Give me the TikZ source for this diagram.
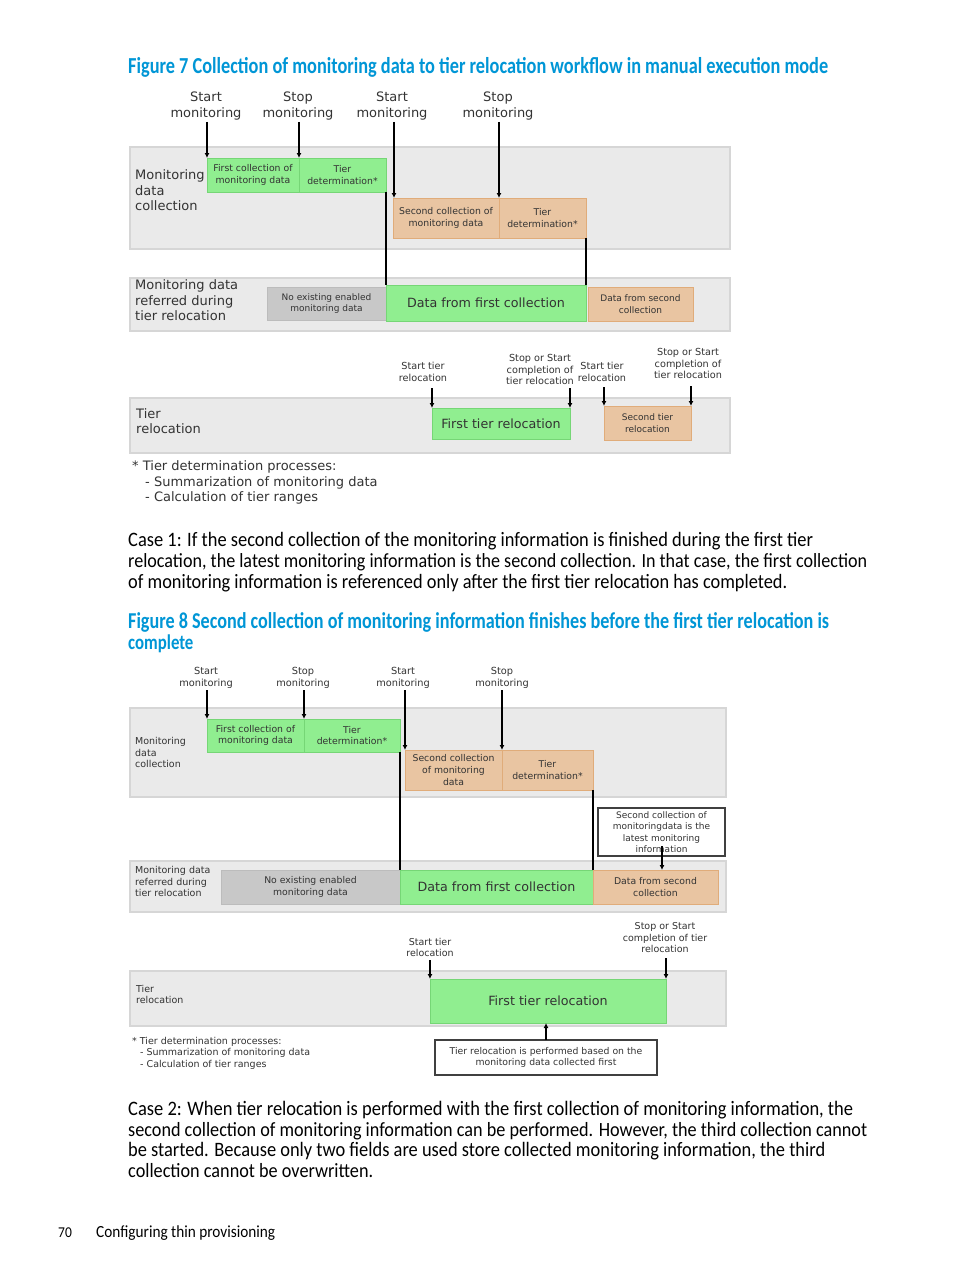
\documentclass[tikz,border=0pt]{standalone}
\usepackage{fontspec}
\usepackage{graphicx}
\usetikzlibrary{arrows.meta}
\setmainfont{DejaVu Sans}
\newfontfamily\bodyf[FakeStretch=0.9]{Carlito}
\newfontfamily\titlef[FakeStretch=0.8]{Carlito}
\definecolor{hpblue}{RGB}{0,150,214}
\definecolor{gfill}{RGB}{144,238,144}
\definecolor{gline}{RGB}{118,214,118}
\definecolor{ofill}{RGB}{233,197,162}
\definecolor{oline}{RGB}{224,172,122}
\definecolor{xfill}{RGB}{200,200,200}
\definecolor{xline}{RGB}{188,188,188}
\definecolor{lfill}{RGB}{234,234,234}
\definecolor{lline}{RGB}{214,214,214}
\definecolor{dtext}{RGB}{51,51,51}
\newcommand\fsz[2]{\fontsize{#1}{#2}\selectfont}
\newcommand\fitw[2]{\resizebox{#1}{!}{#2}}
\tikzset{
  lanebox/.style={draw=lline,fill=lfill,line width=1.4pt,inner sep=0pt,outer sep=0pt},
  gbox/.style={draw=gline,fill=gfill,line width=1pt,inner sep=0pt,outer sep=0pt,align=center,text=dtext},
  obox/.style={draw=oline,fill=ofill,line width=1pt,inner sep=0pt,outer sep=0pt,align=center,text=dtext},
  xbox/.style={draw=xline,fill=xfill,line width=1pt,inner sep=0pt,outer sep=0pt,align=center,text=dtext},
  callbox/.style={draw=black!75,fill=white,line width=1.2pt,inner sep=0pt,outer sep=0pt,align=center,text=dtext},
  lbl/.style={inner sep=0pt,align=center,text=dtext},
  lanelbl/.style={inner sep=0pt,align=left,anchor=west,text=dtext},
  arr/.style={-{Latex[length=5pt,width=5pt]},line width=1.1pt,black},
  vline/.style={line width=1.1pt,black},
  body/.style={inner sep=0pt,anchor=base west,text=black},
  ttl/.style={inner sep=0pt,anchor=base west,text=hpblue},
  fA/.style={font=\fsz{13}{15.5}},
  fS/.style={font=\fsz{9.3}{11.8}},
  fX/.style={font=\fsz{9}{11.5}},
  fB/.style={font=\fsz{12.7}{15}},
  fR/.style={font=\fsz{9.7}{11.8}},
  fM/.style={font=\fsz{9.5}{11.5}},
  fT/.style={font=\fsz{9.8}{12}}
}
\begin{document}
\begin{tikzpicture}[x=1pt,y=-1pt]
\useasboundingbox (0,0) rectangle (954,1271);
\fill[white] (0,0) rectangle (954,1271);

% ---------------- Figure 7 ----------------
\node[ttl] (t7) at (128,73.5) {\fitw{700pt}{\titlef\bfseries\fsz{21}{24}Figure 7 Collection of monitoring data to tier relocation workflow in manual execution mode}};

\node[lanebox,minimum width=600pt,minimum height=102pt] (f7l1) at (430,198) {};
\node[lanebox,minimum width=600pt,minimum height=53pt] (f7l2) at (430,304.5) {};
\node[lanebox,minimum width=600pt,minimum height=55pt] (f7l3) at (430,425.5) {};

\node[lanelbl,fA] (f7l1t) at (135,190.5) {Monitoring\\data\\collection};
\node[lanelbl,fA] (f7l2t) at (135,300.5) {Monitoring data\\referred during\\tier relocation};
\node[lanelbl,fA] (f7l3t) at (136,421) {Tier\\relocation};

\node[gbox,fS,minimum width=92pt,minimum height=34pt] (f7g1) at (253,175) {First collection of\\monitoring data};
\node[gbox,fS,minimum width=87pt,minimum height=34pt] (f7g2) at (342.5,175) {Tier\\determination*};
\node[obox,fS,minimum width=106pt,minimum height=40pt] (f7o1) at (446,218) {Second collection of\\monitoring data};
\node[obox,fS,minimum width=87pt,minimum height=40pt] (f7o2) at (542.5,218) {Tier\\determination*};

\node[xbox,fX,minimum width=119pt,minimum height=33pt] (f7xd) at (326.5,303.5) {No existing enabled\\monitoring data};
\node[gbox,fB,minimum width=200pt,minimum height=36pt] (f7gd) at (486,303) {Data from first collection};
\node[obox,fX,minimum width=105pt,minimum height=34pt] (f7od) at (640.5,304) {Data from second\\collection};

\node[gbox,fB,minimum width=138pt,minimum height=31pt] (f7tr1) at (501,423.5) {First tier relocation};
\node[obox,fX,minimum width=87pt,minimum height=34pt] (f7tr2) at (647.5,423) {Second tier\\relocation};

% top labels
\node[lbl,fA] (f7a) at (206,106) {Start\\monitoring};
\node[lbl,fA] (f7b) at (298,106) {Stop\\monitoring};
\node[lbl,fA] (f7c) at (392,106) {Start\\monitoring};
\node[lbl,fA] (f7d) at (498,106) {Stop\\monitoring};
\coordinate (f7as) at (207,122);
\coordinate (f7bs) at (299,122);
\coordinate (f7cs) at (394,122);
\coordinate (f7ds) at (499,122);
\draw[arr] (f7as) -- (f7g1.north west);
\draw[arr] (f7bs) -- (f7bs |- f7g1.north);
\draw[arr] (f7cs) -- (f7cs |- f7o1.north);
\draw[arr] (f7ds) -- (f7ds |- f7o1.north);

\draw[vline] (f7g2.south east) -- (f7gd.north west);
\draw[vline] (f7o2.south east) -- (f7gd.north east);

% tier relocation labels
\node[lbl,fR] (f7e) at (423,372) {Start tier\\relocation};
\node[lbl,fR] (f7f) at (540,369.5) {Stop or Start\\completion of\\tier relocation};
\node[lbl,fR] (f7g) at (602,372) {Start tier\\relocation};
\node[lbl,fR] (f7h) at (688,363.5) {Stop or Start\\completion of\\tier relocation};
\coordinate (f7es) at (432,388);
\coordinate (f7fs) at (570,388);
\coordinate (f7gs) at (604,387);
\coordinate (f7hs) at (691,386);
\draw[arr] (f7es) -- (f7tr1.north west);
\draw[arr] (f7fs) -- (f7tr1.north east);
\draw[arr] (f7gs) -- (f7tr2.north west);
\draw[arr] (f7hs) -- (f7tr2.north east);

\node[lanelbl,fA] (f7n1) at (132,467) {* Tier determination processes:};
\node[lanelbl,fA] (f7n2) at (145,482.5) {- Summarization of monitoring data};
\node[lanelbl,fA] (f7n3) at (145,498) {- Calculation of tier ranges};

% ---------------- Case 1 text ----------------
\node[body] (c1a) at (128,546.5) {\fitw{685pt}{\bodyf\fsz{17}{20}Case 1: If the second collection of the monitoring information is finished during the first tier}};
\node[body] (c1b) at (128,567.5) {\fitw{739pt}{\bodyf\fsz{17}{20}relocation, the latest monitoring information is the second collection. In that case, the first collection}};
\node[body] (c1c) at (128,588.5) {\fitw{659pt}{\bodyf\fsz{17}{20}of monitoring information is referenced only after the first tier relocation has completed.}};

% ---------------- Figure 8 ----------------
\node[ttl] (t8a) at (128,628) {\fitw{701pt}{\titlef\bfseries\fsz{21}{24}Figure 8 Second collection of monitoring information finishes before the first tier relocation is}};
\node[ttl] (t8b) at (128,649) {\titlef\bfseries\fsz{21}{24}complete};

\node[lanebox,minimum width=596pt,minimum height=89pt] (f8l1) at (428,752.5) {};
\node[lanebox,minimum width=596pt,minimum height=51pt] (f8l2) at (428,886.5) {};
\node[lanebox,minimum width=596pt,minimum height=55pt] (f8l3) at (428,998.5) {};

\node[lanelbl,fM] (f8l1t) at (135,752.5) {Monitoring\\data\\collection};
\node[lanelbl,fM] (f8l2t) at (135,881.5) {Monitoring data\\referred during\\tier relocation};
\node[lanelbl,fM] (f8l3t) at (136,994.5) {Tier\\relocation};

\node[gbox,fS,minimum width=97pt,minimum height=33pt] (f8g1) at (255.5,735.5) {First collection of\\monitoring data};
\node[gbox,fS,minimum width=96pt,minimum height=33pt] (f8g2) at (352,735.5) {Tier\\determination*};
\node[obox,fS,minimum width=97pt,minimum height=40pt] (f8o1) at (453.5,770) {Second collection\\of monitoring\\data};
\node[obox,fS,minimum width=91pt,minimum height=40pt] (f8o2) at (547.5,770) {Tier\\determination*};

\node[xbox,fS,minimum width=179pt,minimum height=34pt] (f8xd) at (310.5,887) {No existing enabled\\monitoring data};
\node[gbox,fB,minimum width=193pt,minimum height=34pt] (f8gd) at (496.5,887) {Data from first collection};
\node[obox,fS,minimum width=125pt,minimum height=34pt] (f8od) at (655.5,887) {Data from second\\collection};

\node[gbox,fB,minimum width=236pt,minimum height=44pt] (f8tr) at (548,1001) {First tier relocation};

\node[callbox,fX,minimum width=127pt,minimum height=48pt] (f8c1) at (661.5,832) {Second collection of\\monitoringdata is the\\latest monitoring\\information};
\node[callbox,fS,minimum width=222pt,minimum height=35pt] (f8c2) at (546,1057.5) {Tier relocation is performed based on the\\monitoring data collected first};

% top labels
\node[lbl,fT] (f8a) at (206,677.5) {Start\\monitoring};
\node[lbl,fT] (f8b) at (303,677.5) {Stop\\monitoring};
\node[lbl,fT] (f8c) at (403,677.5) {Start\\monitoring};
\node[lbl,fT] (f8d) at (502,677.5) {Stop\\monitoring};
\coordinate (f8as) at (207,690);
\coordinate (f8bs) at (304,690);
\coordinate (f8cs) at (405,690);
\coordinate (f8ds) at (502,690);
\draw[arr] (f8as) -- (f8g1.north west);
\draw[arr] (f8bs) -- (f8bs |- f8g1.north);
\draw[arr] (f8cs) -- (f8o1.north west);
\draw[arr] (f8ds) -- (f8ds |- f8o1.north);

\draw[vline] (f8g2.south east) -- (f8gd.north west);
\draw[vline] (f8o2.south east) -- (f8gd.north east);

\coordinate (f8c1s) at (662,846);
\draw[arr] (f8c1s) -- (f8c1s |- f8od.north);

\node[lbl,fM] (f8e) at (430,947.5) {Start tier\\relocation};
\node[lbl,fM] (f8f) at (665,938) {Stop or Start\\completion of tier\\relocation};
\coordinate (f8es) at (430,960);
\coordinate (f8fs) at (666,958);
\draw[arr] (f8es) -- (f8tr.north west);
\draw[arr] (f8fs) -- (f8tr.north east);
\draw[arr] (f8c2.north) -- (f8c2.north |- f8tr.south);

\node[lanelbl,fM] (f8n1) at (132,1041.5) {* Tier determination processes:};
\node[lanelbl,fM] (f8n2) at (140,1053) {- Summarization of monitoring data};
\node[lanelbl,fM] (f8n3) at (140,1064.5) {- Calculation of tier ranges};

% ---------------- Case 2 text ----------------
\node[body] (c2a) at (128,1115.5) {\fitw{725pt}{\bodyf\fsz{17}{20}Case 2: When tier relocation is performed with the first collection of monitoring information, the}};
\node[body] (c2b) at (128,1136.5) {\fitw{739pt}{\bodyf\fsz{17}{20}second collection of monitoring information can be performed. However, the third collection cannot}};
\node[body] (c2c) at (128,1156.5) {\fitw{697pt}{\bodyf\fsz{17}{20}be started. Because only two fields are used store collected monitoring information, the third}};
\node[body] (c2d) at (128,1177.5) {\fitw{245pt}{\bodyf\fsz{17}{20}collection cannot be overwritten.}};

% footer
\node[body] (pg) at (58,1237.5) {\bodyf\fsz{15}{18}70};
\node[body] (pt) at (96,1237.5) {\fitw{179pt}{\bodyf\fsz{15}{18}Configuring thin provisioning}};
\end{tikzpicture}
\end{document}
